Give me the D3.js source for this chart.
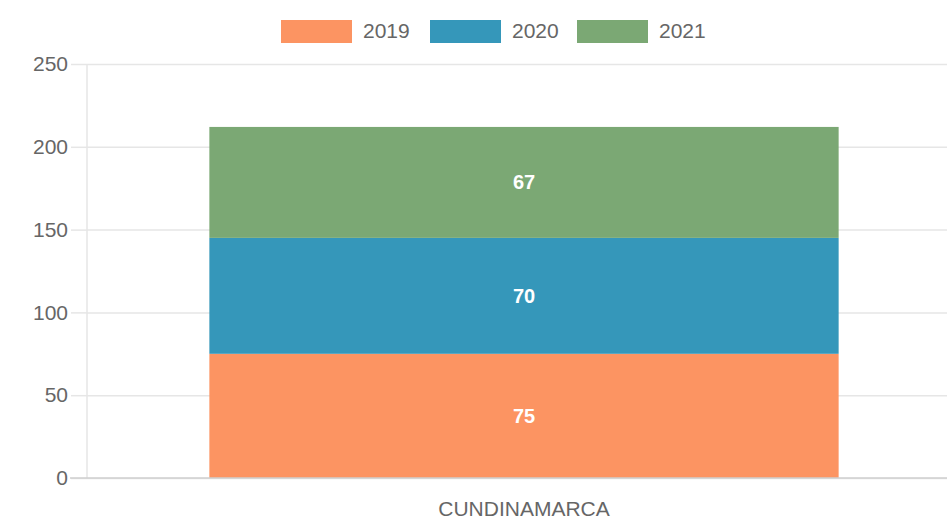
<!DOCTYPE html>
<html><head><meta charset="utf-8">
<script src="https://cdn.jsdelivr.net/npm/d3@7"></script>
<style>body{margin:0;background:#fff;}svg{display:block;font-family:"Liberation Sans",Arial,sans-serif;}</style>
</head><body>
<svg id="c" width="947" height="521"></svg>
<script>
const categories = ["CUNDINAMARCA"];
const seriesNames = ["2019", "2020", "2021"];
const values2019 = [75];
const values2020 = [70];
const values2021 = [67];
const seriesColors = ["#fc9462", "#3597ba", "#7ba874"];
const yTicks = [0, 50, 100, 150, 200, 250];

(function () {
const seriesValues = [values2019, values2020, values2021];
const svg = d3.select("#c");
const W = 947, H = 521;
const mLeft = 87, mRight = 961, mTop = 64, mBottom = 478;

const x = d3.scaleBand().domain(categories).range([mLeft, mRight]).paddingInner(0.28).paddingOuter(0.14);
const y = d3.scaleLinear().domain([0, 250]).range([mBottom, mTop]);

// gridlines
const gy = svg.append("g").attr("transform", `translate(${mLeft},0)`)
  .call(d3.axisLeft(y).tickValues(yTicks).tickSize(-(W - mLeft)).tickSizeOuter(0).tickPadding(19));
gy.select(".domain").remove();
gy.selectAll(".tick line").attr("stroke", "#e6e6e6").attr("stroke-width", 1.5);
gy.selectAll(".tick").append("line").attr("x1", -16).attr("x2", 0).attr("stroke", "#e6e6e6").attr("stroke-width", 1.5);
gy.selectAll(".tick text").attr("fill", "#666").attr("font-size", 21).attr("font-family", "Liberation Sans, Arial, sans-serif");
// vertical axis line
svg.append("line").attr("x1", mLeft).attr("x2", mLeft).attr("y1", mTop).attr("y2", mBottom).attr("stroke", "#e6e6e6").attr("stroke-width", 1.5);

// stacked bars
const stackData = categories.map((c, i) => {
  const o = {cat: c};
  seriesNames.forEach((s, j) => o[s] = seriesValues[j][i]);
  return o;
});
const stack = d3.stack().keys(seriesNames)(stackData);
stack.forEach((layer, j) => {
  const g = svg.append("g");
  g.selectAll("rect").data(layer).join("rect")
    .attr("x", d => x(d.data.cat)).attr("width", x.bandwidth())
    .attr("y", d => y(d[1])).attr("height", d => y(d[0]) - y(d[1]))
    .attr("fill", seriesColors[j]);
  g.selectAll("text").data(layer).join("text")
    .attr("x", d => x(d.data.cat) + x.bandwidth() / 2)
    .attr("y", d => (y(d[0]) + y(d[1])) / 2)
    .attr("dy", "0.35em").attr("text-anchor", "middle")
    .attr("fill", "#fff").attr("font-weight", "bold").attr("font-size", 20)
    .text(d => d[1] - d[0]);
});

// x axis
const gx = svg.append("g").attr("transform", `translate(0,${mBottom})`)
  .call(d3.axisBottom(x).tickSize(0).tickPadding(23));
gx.select(".domain").remove();
gx.selectAll(".tick text").attr("fill", "#666").attr("font-size", 21).attr("font-family", "Liberation Sans, Arial, sans-serif");
svg.append("line").attr("x1", 70).attr("x2", W).attr("y1", mBottom).attr("y2", mBottom).attr("stroke", "#cfcfcf").attr("stroke-width", 1.5);

// legend
const legendX = [281, 430, 577];
const lg = svg.append("g");
seriesNames.forEach((s, j) => {
  lg.append("rect").attr("x", legendX[j]).attr("y", 20).attr("width", 71).attr("height", 23).attr("fill", seriesColors[j]);
  lg.append("text").attr("x", legendX[j] + 82).attr("y", 38).attr("fill", "#666").attr("font-size", 21).text(s);
});
})();
</script>
</body></html>
